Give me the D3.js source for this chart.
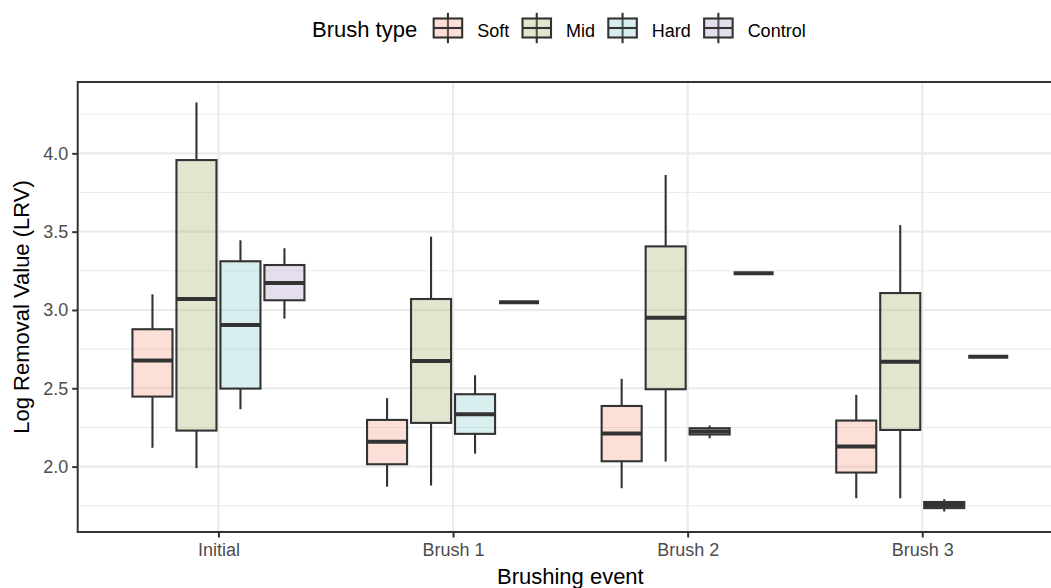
<!DOCTYPE html>
<html>
<head>
<meta charset="utf-8">
<script src="https://cdn.jsdelivr.net/npm/d3@7"></script>
<style>
  html, body { margin: 0; padding: 0; background: #ffffff; }
  svg { display: block; font-family: "Liberation Sans", Arial, Helvetica, sans-serif; }
</style>
</head>
<body>
<svg id="chart" width="1051" height="588"></svg>
<script>
// Brushing events (x categories) and brush types (dodged series)
const events = ["Initial", "Brush 1", "Brush 2", "Brush 3"];
const brushTypes = ["Soft", "Mid", "Hard", "Control"];

// Five-number summaries per event: [lower whisker, Q1, median, Q3, upper whisker]
const softStats = [
  [2.12, 2.447, 2.677, 2.877, 3.10],
  [1.872, 2.015, 2.158, 2.298, 2.437],
  [1.862, 2.034, 2.211, 2.387, 2.56],
  [1.798, 1.962, 2.128, 2.294, 2.458]
];
const midStats = [
  [1.99, 2.23, 3.07, 3.957, 4.325],
  [1.879, 2.279, 2.675, 3.07, 3.468],
  [2.032, 2.494, 2.951, 3.406, 3.862],
  [1.798, 2.234, 2.67, 3.108, 3.542]
];
const hardStats = [
  [2.366, 2.498, 2.904, 3.311, 3.445],
  [2.083, 2.209, 2.334, 2.462, 2.583],
  [2.181, 2.205, 2.224, 2.245, 2.262],
  [1.713, 1.735, 1.754, 1.774, 1.792]
];
const controlStats = [
  [2.945, 3.062, 3.172, 3.287, 3.394],
  [3.049, 3.049, 3.049, 3.049, 3.049],
  [3.234, 3.234, 3.234, 3.234, 3.234],
  [2.702, 2.702, 2.702, 2.702, 2.702]
];

// Y axis ticks
const yMajorTicks = [2.0, 2.5, 3.0, 3.5, 4.0];
const yMinorTicks = [1.75, 2.25, 2.75, 3.25, 3.75, 4.25];

const statsByType = { Soft: softStats, Mid: midStats, Hard: hardStats, Control: controlStats };

const fillColors = { Soft: "#f5987d", Mid: "#98af5c", Hard: "#80c6c6", Control: "#a891c0" };
const fillOpacity = 0.3;
const ink = "#333333";

const svg = d3.select("#chart");

// Panel geometry (right edge runs past the visible canvas)
const panel = { left: 77.7, right: 1063, top: 82, bottom: 532 };

// Flatten to a table of boxes
const boxes = [];
brushTypes.forEach(t => {
  events.forEach((e, i) => {
    const s = statsByType[t][i];
    boxes.push({ type: t, event: e, lo: s[0], q1: s[1], med: s[2], q3: s[3], hi: s[4] });
  });
});

// Scales
const x = d3.scalePoint().domain(events).range([panel.left, panel.right]).padding(0.6);
const dodge = d3.scaleBand().domain(brushTypes).range([-86, 86]).paddingInner(0.09);

const lo = d3.min(boxes, d => d.lo), hi = d3.max(boxes, d => d.hi);
const pad = (hi - lo) * 0.05;
const y = d3.scaleLinear().domain([lo - pad, hi + pad]).range([panel.bottom, panel.top]);

const panelW = panel.right - panel.left;
const panelH = panel.bottom - panel.top;

// Grid
const grid = svg.append("g");
grid.selectAll("line.minor").data(yMinorTicks).join("line")
  .attr("x1", panel.left).attr("x2", panel.right)
  .attr("y1", d => y(d)).attr("y2", d => y(d))
  .attr("stroke", "#ebebeb").attr("stroke-width", 1.1);
grid.selectAll("line.major").data(yMajorTicks).join("line")
  .attr("x1", panel.left).attr("x2", panel.right)
  .attr("y1", d => y(d)).attr("y2", d => y(d))
  .attr("stroke", "#ebebeb").attr("stroke-width", 2.1);
grid.selectAll("line.vmajor").data(events).join("line")
  .attr("x1", d => x(d)).attr("x2", d => x(d))
  .attr("y1", panel.top).attr("y2", panel.bottom)
  .attr("stroke", "#ebebeb").attr("stroke-width", 2.1);

// Boxplots
const bw = dodge.bandwidth();
const g = svg.append("g").selectAll("g.box").data(boxes).join("g")
  .attr("transform", d => `translate(${x(d.event) + dodge(d.type)},0)`);

g.append("line")
  .attr("x1", bw / 2).attr("x2", bw / 2)
  .attr("y1", d => y(d.q3)).attr("y2", d => y(d.hi))
  .attr("stroke", ink).attr("stroke-width", 2.1);
g.append("line")
  .attr("x1", bw / 2).attr("x2", bw / 2)
  .attr("y1", d => y(d.q1)).attr("y2", d => y(d.lo))
  .attr("stroke", ink).attr("stroke-width", 2.1);
g.append("rect")
  .attr("x", 0).attr("width", bw)
  .attr("y", d => y(d.q3)).attr("height", d => y(d.q1) - y(d.q3))
  .attr("fill", d => fillColors[d.type]).attr("fill-opacity", fillOpacity)
  .attr("stroke", ink).attr("stroke-width", 2.1);
g.append("line")
  .attr("x1", 0).attr("x2", bw)
  .attr("y1", d => y(d.med)).attr("y2", d => y(d.med))
  .attr("stroke", ink).attr("stroke-width", 4);

// Panel border
svg.append("rect")
  .attr("x", panel.left).attr("y", panel.top)
  .attr("width", panelW).attr("height", panelH)
  .attr("fill", "none").attr("stroke", ink).attr("stroke-width", 2);

// Y axis
const yAxis = d3.axisLeft(y).tickValues(yMajorTicks).tickFormat(d3.format(".1f"))
  .tickSize(5.5).tickPadding(4);
const yg = svg.append("g").attr("transform", `translate(${panel.left},0)`).call(yAxis);
yg.select(".domain").remove();
yg.selectAll(".tick line").attr("stroke", ink).attr("stroke-width", 2);
yg.selectAll(".tick text").attr("fill", "#4d4d4d").style("font-size", "18px")
  .style("font-family", "'Liberation Sans', Arial, Helvetica, sans-serif");

// X axis
const xAxis = d3.axisBottom(x).tickSize(5.5).tickPadding(4);
const xg = svg.append("g").attr("transform", `translate(0,${panel.bottom})`).call(xAxis);
xg.select(".domain").remove();
xg.selectAll(".tick line").attr("stroke", ink).attr("stroke-width", 2);
xg.selectAll(".tick text").attr("fill", "#4d4d4d").style("font-size", "18px")
  .style("font-family", "'Liberation Sans', Arial, Helvetica, sans-serif")
  .attr("dy", null).attr("y", 24);

// Axis titles
const centerX = (panel.left + panel.right) / 2;
svg.append("text")
  .attr("x", centerX).attr("y", 584)
  .attr("text-anchor", "middle").attr("fill", "#000")
  .style("font-size", "22px").text("Brushing event");
svg.append("text")
  .attr("transform", `translate(29,${(panel.top + panel.bottom) / 2}) rotate(-90)`)
  .attr("text-anchor", "middle").attr("fill", "#000")
  .style("font-size", "22px").text("Log Removal Value (LRV)");

// Legend: title, then a boxplot key and label for each brush type
const legend = svg.append("g").attr("transform", "translate(312,0)");
const keyW = 28.5, keyH = 19, keyCY = 28, whisk = 15.2;
const title = legend.append("text").attr("y", 37.3).attr("fill", "#000")
  .style("font-size", "22px").text("Brush type");
let cursor = title.node().getComputedTextLength() + 16.5;
brushTypes.forEach(t => {
  const kg = legend.append("g").attr("transform", `translate(${cursor},${keyCY})`);
  kg.append("line").attr("x1", keyW / 2).attr("x2", keyW / 2)
    .attr("y1", -whisk).attr("y2", whisk)
    .attr("stroke", ink).attr("stroke-width", 2.1);
  kg.append("rect").attr("x", 0).attr("width", keyW)
    .attr("y", -keyH / 2).attr("height", keyH)
    .attr("fill", fillColors[t]).attr("fill-opacity", fillOpacity)
    .attr("stroke", ink).attr("stroke-width", 2.1);
  kg.append("line").attr("x1", 0).attr("x2", keyW)
    .attr("y1", 0).attr("y2", 0)
    .attr("stroke", ink).attr("stroke-width", 2.1);
  cursor += keyW + 15;
  const lab = legend.append("text").attr("x", cursor).attr("y", 36.7)
    .attr("fill", "#000").style("font-size", "18px").text(t);
  cursor += lab.node().getComputedTextLength() + 13.3;
});
</script>
</body>
</html>
